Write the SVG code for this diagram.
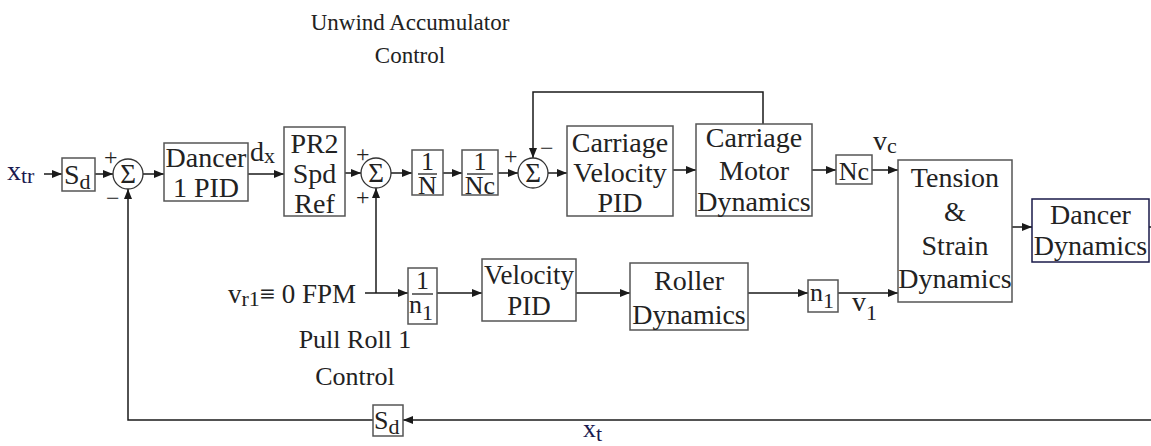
<svg xmlns="http://www.w3.org/2000/svg" width="1151" height="446" viewBox="0 0 1151 446" font-family="'Liberation Serif','Times New Roman',serif">
<defs>
<style>
.box{fill:#fff;stroke:#555;stroke-width:1.5}
.navy{stroke:#1a1a4a}
.ln{fill:none;stroke:#1a1a1a;stroke-width:1.5}
.t{font-family:'Liberation Serif','Times New Roman',serif;font-size:28px;fill:#222;text-anchor:middle}
.l{font-family:'Liberation Serif','Times New Roman',serif;font-size:28px;fill:#222}
.nv{fill:#1a1a50}
.sub{font-size:22px}
.sg{font-family:'Liberation Serif','Times New Roman',serif;font-size:24px;fill:#222}
.sum{fill:#fff;stroke:#333;stroke-width:1.3}
.fr{stroke:#222;stroke-width:1.3}
</style>
<marker id="ah" markerUnits="userSpaceOnUse" markerWidth="10" markerHeight="8" refX="10" refY="4" orient="auto">
<path d="M0,0 L10,4 L0,8 z" fill="#1a1a1a"/>
</marker>
</defs>
<rect width="1151" height="446" fill="#fff"/>

<g id="connectors">
<path class="ln" d="M44,174 H62" marker-end="url(#ah)"/>
<path class="ln" d="M95,174 H113" marker-end="url(#ah)"/>
<path class="ln" d="M143,174 H164" marker-end="url(#ah)"/>
<path class="ln" d="M248,174 H284" marker-end="url(#ah)"/>
<path class="ln" d="M345,173 H361" marker-end="url(#ah)"/>
<path class="ln" d="M391,173 H412" marker-end="url(#ah)"/>
<path class="ln" d="M443,173 H462" marker-end="url(#ah)"/>
<path class="ln" d="M498,173 H518" marker-end="url(#ah)"/>
<path class="ln" d="M548,173 H567" marker-end="url(#ah)"/>
<path class="ln" d="M673,170 H696" marker-end="url(#ah)"/>
<path class="ln" d="M763,124 V92 H533 V158" marker-end="url(#ah)"/>
<path class="ln" d="M812,170 H836" marker-end="url(#ah)"/>
<path class="ln" d="M872,170 H898" marker-end="url(#ah)"/>
<path class="ln" d="M1012,227 H1032" marker-end="url(#ah)"/>
<path class="ln" d="M1149,227 H1151"/>
<path class="ln" d="M1151,420 H403" marker-end="url(#ah)"/>
<path class="ln" d="M373,420 H128 V189" marker-end="url(#ah)"/>
<path class="ln" d="M365,293 H408" marker-end="url(#ah)"/>
<path class="ln" d="M376,293 V188" marker-end="url(#ah)"/>
<path class="ln" d="M437,293 H482" marker-end="url(#ah)"/>
<path class="ln" d="M576,293 H630" marker-end="url(#ah)"/>
<path class="ln" d="M748,293 H808" marker-end="url(#ah)"/>
<path class="ln" d="M838,293 H898" marker-end="url(#ah)"/>
</g>

<g id="title">
<text class="t" x="410" y="30" style="font-size:23px">Unwind Accumulator</text>
<text class="t" x="410" y="63" style="font-size:23px">Control</text>
</g>

<g id="input-xtr">
<text class="l nv" x="7" y="180">x<tspan class="sub" dy="3">tr</tspan></text>
</g>

<g id="sd1">
<rect class="box" x="62" y="158" width="33" height="33"/>
<text class="l" x="64" y="184">S<tspan class="sub" dy="5">d</tspan></text>
</g>

<g id="sum1">
<circle class="sum" cx="128" cy="174" r="15"/>
<text class="t" x="128" y="183" style="font-size:27px">Σ</text>
<text class="sg" x="104" y="165">+</text>
<text class="sg" x="106" y="206">−</text>
</g>

<g id="dancer-pid">
<rect class="box" x="164" y="143" width="84" height="58"/>
<text class="t" x="206" y="167">Dancer</text>
<text class="t" x="206" y="197">1 PID</text>
</g>

<text class="l" x="250" y="161">d<tspan class="sub" dy="2">x</tspan></text>

<g id="pr2">
<rect class="box" x="284" y="127" width="61" height="89"/>
<text class="t" x="314.5" y="153">PR2</text>
<text class="t" x="314.5" y="183">Spd</text>
<text class="t" x="314.5" y="213">Ref</text>
</g>

<g id="sum2">
<circle class="sum" cx="376" cy="173" r="15"/>
<text class="t" x="376" y="182" style="font-size:27px">Σ</text>
<text class="sg" x="356" y="162">+</text>
<text class="sg" x="356" y="205">+</text>
</g>

<g id="inv-n">
<rect class="box" x="412" y="150" width="31" height="45"/>
<text class="t" x="427.5" y="170" style="font-size:26px">1</text>
<path class="fr" d="M418,174 H437"/>
<text class="t" x="427.5" y="194" style="font-size:26px">N</text>
</g>

<g id="inv-nc">
<rect class="box" x="462" y="150" width="36" height="45"/>
<text class="t" x="480" y="170" style="font-size:26px">1</text>
<path class="fr" d="M467,174 H493"/>
<text class="t" x="480" y="194" style="font-size:26px">Nc</text>
</g>

<g id="sum3">
<circle class="sum" cx="533" cy="173" r="15"/>
<text class="t" x="533" y="182" style="font-size:27px">Σ</text>
<text class="sg" x="504" y="164">+</text>
<text class="sg" x="540" y="156">−</text>
</g>

<g id="carriage-velocity-pid">
<rect class="box" x="567" y="126" width="106" height="90"/>
<text class="t" x="620" y="152">Carriage</text>
<text class="t" x="620" y="182">Velocity</text>
<text class="t" x="620" y="212">PID</text>
</g>

<g id="carriage-motor">
<rect class="box" x="696" y="124" width="116" height="92"/>
<text class="t" x="754" y="147">Carriage</text>
<text class="t" x="754" y="180">Motor</text>
<text class="t" x="754" y="211">Dynamics</text>
</g>

<g id="nc">
<rect class="box" x="836" y="155" width="36" height="29"/>
<text class="t" x="854" y="180" style="font-size:26px">Nc</text>
</g>
<text class="l" x="873" y="150">v<tspan class="sub" dy="3">c</tspan></text>

<g id="tension">
<rect class="box" x="898" y="160" width="114" height="142"/>
<text class="t" x="955" y="187">Tension</text>
<text class="t" x="955" y="221">&amp;</text>
<text class="t" x="955" y="255">Strain</text>
<text class="t" x="955" y="288">Dynamics</text>
</g>

<g id="dancer-dynamics">
<rect class="box navy" x="1032" y="199" width="117" height="63"/>
<text class="t" x="1090.5" y="224">Dancer</text>
<text class="t" x="1090.5" y="255">Dynamics</text>
</g>

<g id="vr1">
<text class="l" x="228" y="303" style="font-size:27px">v<tspan class="sub" dy="3">r1</tspan><tspan dy="-3">≡ 0 FPM</tspan></text>
</g>

<g id="inv-n1">
<rect class="box" x="408" y="268" width="29" height="56"/>
<text class="t" x="422.5" y="289" style="font-size:26px">1</text>
<path class="fr" d="M412,294 H433"/>
<text class="l" x="409" y="313" style="font-size:26px">n<tspan class="sub" dy="7">1</tspan></text>
</g>

<g id="velocity-pid">
<rect class="box" x="482" y="259" width="94" height="62"/>
<text class="t" x="529" y="284" style="font-size:27px">Velocity</text>
<text class="t" x="529" y="315" style="font-size:27px">PID</text>
</g>

<g id="roller">
<rect class="box" x="630" y="263" width="118" height="67"/>
<text class="t" x="689" y="290">Roller</text>
<text class="t" x="689" y="324">Dynamics</text>
</g>

<g id="n1">
<rect class="box" x="808" y="280" width="30" height="32"/>
<text class="l" x="810" y="301" style="font-size:26px">n<tspan class="sub" dy="7">1</tspan></text>
</g>
<text class="l" x="852" y="311">v<tspan class="sub" dy="9">1</tspan></text>

<g id="pullroll-label">
<text class="t" x="355" y="348" style="font-size:26px">Pull Roll 1</text>
<text class="t" x="355" y="385" style="font-size:26px">Control</text>
</g>

<g id="sd2">
<rect class="box" x="373" y="405" width="30" height="31"/>
<text class="l" x="374" y="429" style="font-size:26px">S<tspan class="sub" dy="5">d</tspan></text>
</g>
<text class="l nv" x="583" y="437" style="font-size:26px">x<tspan class="sub" dy="4">t</tspan></text>
</svg>
